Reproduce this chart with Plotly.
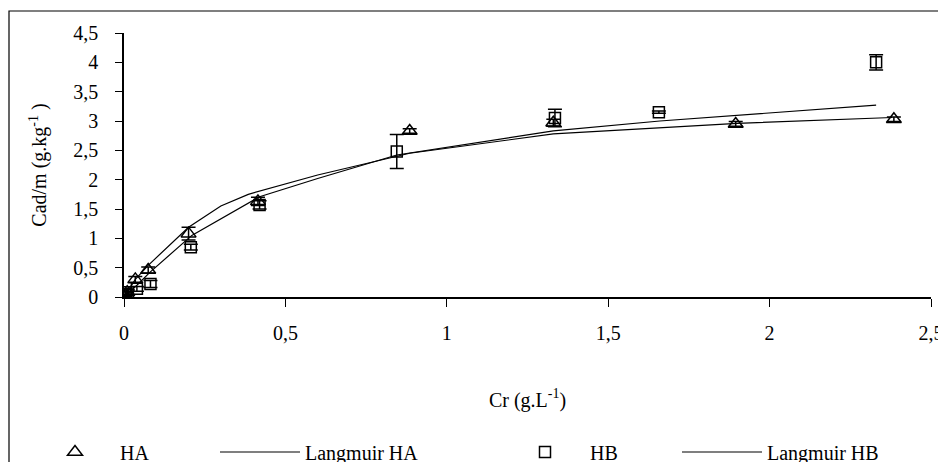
import plotly.graph_objects as go

# Experimental data (Cr in g/L, Cad/m in g/kg)
ha_x = [0.005, 0.01, 0.035, 0.075, 0.2, 0.415, 0.885, 1.33, 1.895, 2.385]
ha_y = [0.02, 0.08, 0.30, 0.46, 1.08, 1.63, 2.83, 2.97, 2.95, 3.03]
ha_err = [0.05, 0.05, 0.05, 0.05, 0.11, 0.07, 0.04, 0.06, 0.04, 0.04]

hb_x = [0.005, 0.012, 0.04, 0.082, 0.207, 0.42, 0.845, 1.335, 1.657, 2.33]
hb_y = [0.05, 0.08, 0.14, 0.22, 0.85, 1.57, 2.48, 3.05, 3.15, 4.00]
hb_err = [0.04, 0.04, 0.04, 0.06, 0.05, 0.07, 0.29, 0.15, 0.02, 0.13]

# Langmuir fitted curves
lha_x = [0, 0.035, 0.075, 0.2, 0.3, 0.385, 0.6, 0.885, 1.33, 1.9, 2.38]
lha_y = [0, 0.30, 0.54, 1.19, 1.55, 1.75, 2.08, 2.45, 2.78, 2.96, 3.06]

lhb_x = [0, 0.04, 0.08, 0.21, 0.42, 0.6, 0.845, 1.33, 1.66, 2.33]
lhb_y = [0, 0.20, 0.42, 1.05, 1.71, 2.02, 2.42, 2.83, 3.00, 3.27]

x_ticks = [0, 0.5, 1, 1.5, 2, 2.5]
x_ticktext = ["0", "0,5", "1", "1,5", "2", "2,5"]
y_ticks = [0, 0.5, 1, 1.5, 2, 2.5, 3, 3.5, 4, 4.5]
y_ticktext = ["0", "0,5", "1", "1,5", "2", "2,5", "3", "3,5", "4", "4,5"]

FONT = "Liberation Serif"
TF = dict(family=FONT, size=20, color="black")

# figure is rendered with an 8px page offset; layout values are in figure coords
L, R, T, B = 116, 23, 25, 173
PW, PH = 946 - L - R, 462 - T - B

fig = go.Figure()
fig.add_trace(go.Scatter(
    x=ha_x, y=ha_y, mode="markers", name="HA", legendwidth=90,
    marker=dict(symbol="triangle-up-open", size=13, color="black", line=dict(width=1.5)),
    error_y=dict(type="data", array=ha_err, color="black", thickness=1.5, width=7),
))
fig.add_trace(go.Scatter(
    x=lha_x, y=lha_y, mode="lines", name="Langmuir HA", legendwidth=190,
    line=dict(color="black", width=1.2),
))
fig.add_trace(go.Scatter(
    x=hb_x, y=hb_y, mode="markers", name="HB", legendwidth=82,
    marker=dict(symbol="square-open", size=11, color="black", line=dict(width=1.5)),
    error_y=dict(type="data", array=hb_err, color="black", thickness=1.5, width=7),
))
fig.add_trace(go.Scatter(
    x=lhb_x, y=lhb_y, mode="lines", name="Langmuir HB", legendwidth=110,
    line=dict(color="black", width=1.2),
))

fig.update_layout(
    width=946, height=462,
    margin=dict(l=L, r=R, t=T, b=B, autoexpand=False),
    paper_bgcolor="white", plot_bgcolor="white",
    font=TF,
    showlegend=True,
    legend=dict(
        orientation="h", x=(22 - L) / PW, y=-(444 - (T + PH)) / PH,
        xanchor="left", yanchor="middle",
        font=TF, itemwidth=80, bgcolor="rgba(0,0,0,0)",
        traceorder="normal",
    ),
    xaxis=dict(
        range=[0, 2.5], tickmode="array", tickvals=x_ticks, ticktext=x_ticktext,
        tickfont=TF, automargin=False,
        showgrid=False, zeroline=False, showline=True, linecolor="black", linewidth=1.5,
        ticks="outside", ticklen=8, tickcolor="black", tickwidth=1,
        ticklabelstandoff=9,
        title=dict(text="Cr (g.L<sup>-1</sup>)", font=TF, standoff=50),
    ),
    yaxis=dict(
        range=[0, 4.5], tickmode="array", tickvals=y_ticks, ticktext=y_ticktext,
        tickfont=TF, automargin=False,
        showgrid=False, zeroline=False, showline=True, linecolor="black", linewidth=1.5,
        ticks="outside", ticklen=7, tickcolor="black", tickwidth=1,
        ticklabelstandoff=13,
        title=dict(text="Cad/m (g.kg<sup>-1</sup> )", font=TF, standoff=21),
    ),
)

# Outer chart border (left and top visible within the frame)
fig.add_shape(type="rect", xref="paper", yref="paper",
              x0=(1 - L) / PW, x1=(960 - L) / PW,
              y0=-(480 - (T + PH)) / PH, y1=1 + (T - 3) / PH,
              line=dict(color="black", width=1.2), layer="below")

fig.write_html("out.html")
